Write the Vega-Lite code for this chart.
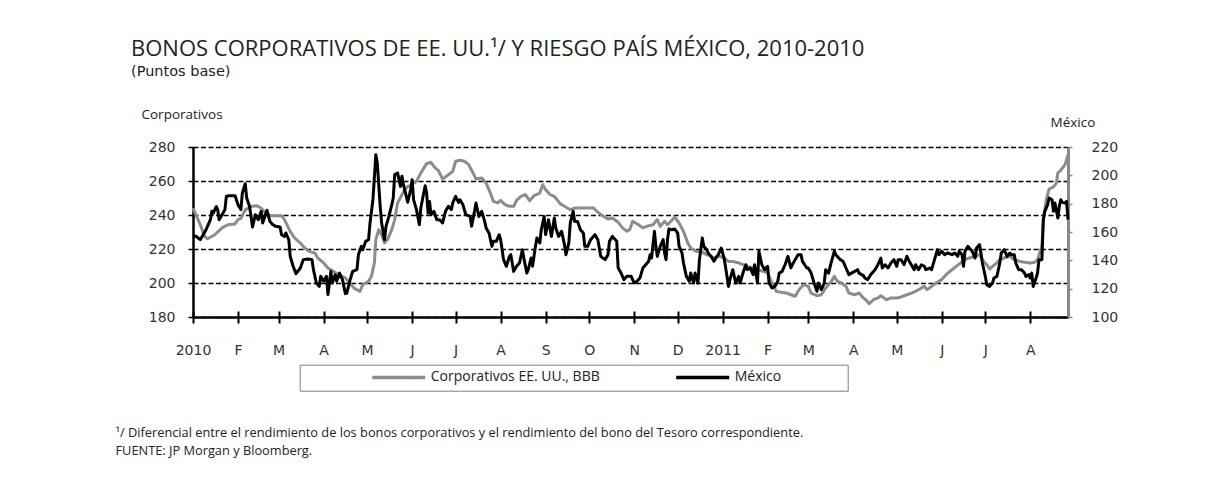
{
 "$schema": "https://vega.github.io/schema/vega-lite/v6.json",
 "width": 875,
 "height": 170,
 "autosize": {"type": "none"},
 "padding": {"left": 193, "top": 147, "right": 141, "bottom": 180},
 "background": "white",
 "config": {"view": {"stroke": null}, "font": "Open Sans"},
 "title": {
  "text": "BONOS CORPORATIVOS DE EE. UU.¹/ Y RIESGO PAÍS MÉXICO, 2010-2010",
  "subtitle": "(Puntos base)",
  "anchor": "start",
  "frame": "group",
  "dx": -62,
  "font": "Open Sans",
  "fontSize": 22,
  "fontWeight": "normal",
  "color": "#222",
  "subtitleFont": "DejaVu Sans",
  "subtitleFontSize": 14.5,
  "subtitleColor": "#222",
  "subtitlePadding": 4.5,
  "offset": 27.5
 },
 "datasets": {
  "corp": [
   {"d":"2010-01-01","v":244.1},{"d":"2010-01-06","v":234.3},{"d":"2010-01-09","v":227.5},{"d":"2010-01-11","v":226},{"d":"2010-01-16","v":228.4},{"d":"2010-01-21","v":232.4},{"d":"2010-01-25","v":234.3},{"d":"2010-01-30","v":234.7},
   {"d":"2010-02-01","v":237.3},{"d":"2010-02-03","v":238},{"d":"2010-02-06","v":243},{"d":"2010-02-10","v":245},{"d":"2010-02-14","v":245.5},{"d":"2010-02-17","v":244},{"d":"2010-02-21","v":240},{"d":"2010-02-24","v":239.6},
   {"d":"2010-03-03","v":239.6},{"d":"2010-03-05","v":237.3},{"d":"2010-03-09","v":230.4},{"d":"2010-03-12","v":226.5},{"d":"2010-03-16","v":223.5},{"d":"2010-03-19","v":220.6},{"d":"2010-03-22","v":218.6},{"d":"2010-03-26","v":217.6},{"d":"2010-03-28","v":214.7},
   {"d":"2010-04-01","v":211.8},{"d":"2010-04-04","v":208.8},{"d":"2010-04-07","v":207.3},{"d":"2010-04-11","v":205},{"d":"2010-04-16","v":203},{"d":"2010-04-19","v":200},{"d":"2010-04-22","v":197},{"d":"2010-04-26","v":195},{"d":"2010-04-28","v":199},
   {"d":"2010-05-02","v":201},{"d":"2010-05-04","v":204},{"d":"2010-05-06","v":211.8},{"d":"2010-05-07","v":225.5},{"d":"2010-05-09","v":231.4},{"d":"2010-05-11","v":228.4},{"d":"2010-05-13","v":223.5},{"d":"2010-05-15","v":225.5},{"d":"2010-05-18","v":231.4},{"d":"2010-05-20","v":237.3},{"d":"2010-05-22","v":247},{"d":"2010-05-25","v":252},{"d":"2010-05-27","v":255},{"d":"2010-05-29","v":256.9},{"d":"2010-05-31","v":257.3},
   {"d":"2010-06-04","v":259.8},{"d":"2010-06-07","v":264.7},{"d":"2010-06-11","v":270.2},{"d":"2010-06-14","v":271},{"d":"2010-06-17","v":267.6},{"d":"2010-06-19","v":266.3},{"d":"2010-06-22","v":261.2},{"d":"2010-06-26","v":263.7},{"d":"2010-06-29","v":265.7},
   {"d":"2010-07-01","v":271.6},{"d":"2010-07-04","v":272.2},{"d":"2010-07-07","v":271.6},{"d":"2010-07-10","v":269.6},{"d":"2010-07-13","v":264.7},{"d":"2010-07-15","v":261.2},{"d":"2010-07-19","v":261.8},{"d":"2010-07-22","v":258.8},{"d":"2010-07-25","v":252.9},{"d":"2010-07-27","v":248},{"d":"2010-07-30","v":247.1},
   {"d":"2010-08-01","v":248.6},{"d":"2010-08-04","v":246.1},{"d":"2010-08-07","v":245.1},{"d":"2010-08-10","v":245.1},{"d":"2010-08-12","v":248.6},{"d":"2010-08-15","v":251},{"d":"2010-08-18","v":252},{"d":"2010-08-21","v":248.4},{"d":"2010-08-24","v":251.4},{"d":"2010-08-28","v":252.9},{"d":"2010-08-30","v":257.8},
   {"d":"2010-09-01","v":254.9},{"d":"2010-09-04","v":252},{"d":"2010-09-07","v":251},{"d":"2010-09-11","v":246.7},{"d":"2010-09-14","v":245.1},{"d":"2010-09-18","v":243.1},{"d":"2010-09-21","v":244.1},{"d":"2010-09-24","v":244.1},{"d":"2010-09-29","v":244.1},
   {"d":"2010-10-04","v":244.1},{"d":"2010-10-07","v":241.6},{"d":"2010-10-11","v":239.2},{"d":"2010-10-14","v":237.6},{"d":"2010-10-17","v":238.2},{"d":"2010-10-21","v":235.7},{"d":"2010-10-24","v":232.4},{"d":"2010-10-27","v":230.4},{"d":"2010-10-29","v":231.4},{"d":"2010-10-31","v":236.3},
   {"d":"2010-11-04","v":234.3},{"d":"2010-11-07","v":232.4},{"d":"2010-11-11","v":233.7},{"d":"2010-11-14","v":234.3},{"d":"2010-11-17","v":237.3},{"d":"2010-11-19","v":233.3},{"d":"2010-11-22","v":236.3},{"d":"2010-11-24","v":234.3},{"d":"2010-11-27","v":236.9},{"d":"2010-11-29","v":238.8},
   {"d":"2010-12-02","v":235.3},{"d":"2010-12-05","v":230.4},{"d":"2010-12-08","v":223.5},{"d":"2010-12-10","v":220.6},{"d":"2010-12-14","v":218.6},{"d":"2010-12-17","v":218.6},{"d":"2010-12-21","v":216.7},{"d":"2010-12-24","v":215.7},{"d":"2010-12-26","v":214.7},{"d":"2010-12-30","v":215.7},
   {"d":"2011-01-02","v":214.7},{"d":"2011-01-05","v":212.7},{"d":"2011-01-08","v":212.7},{"d":"2011-01-12","v":211.8},{"d":"2011-01-15","v":210.8},{"d":"2011-01-18","v":209.8},{"d":"2011-01-22","v":208.8},{"d":"2011-01-25","v":207.8},{"d":"2011-01-29","v":206.9},
   {"d":"2011-02-01","v":205.9},{"d":"2011-02-04","v":200},{"d":"2011-02-07","v":195.1},{"d":"2011-02-10","v":194.5},{"d":"2011-02-14","v":194.1},{"d":"2011-02-17","v":193.1},{"d":"2011-02-20","v":192.2},{"d":"2011-02-23","v":196.5},{"d":"2011-02-26","v":199},
   {"d":"2011-03-01","v":198},{"d":"2011-03-03","v":194.1},{"d":"2011-03-07","v":192.5},{"d":"2011-03-10","v":193.1},{"d":"2011-03-13","v":197.1},{"d":"2011-03-17","v":201},{"d":"2011-03-19","v":203.9},{"d":"2011-03-21","v":201},{"d":"2011-03-24","v":200},{"d":"2011-03-27","v":198},{"d":"2011-03-29","v":194.1},
   {"d":"2011-04-02","v":193.1},{"d":"2011-04-05","v":194.1},{"d":"2011-04-08","v":191.2},{"d":"2011-04-10","v":189.8},{"d":"2011-04-12","v":187.8},{"d":"2011-04-15","v":190.2},{"d":"2011-04-18","v":191.2},{"d":"2011-04-20","v":192.5},{"d":"2011-04-24","v":190.2},{"d":"2011-04-27","v":191.2},
   {"d":"2011-05-01","v":191.2},{"d":"2011-05-04","v":191.8},{"d":"2011-05-08","v":193.1},{"d":"2011-05-11","v":194.1},{"d":"2011-05-14","v":195.1},{"d":"2011-05-18","v":197.1},{"d":"2011-05-20","v":198},{"d":"2011-05-22","v":196.1},{"d":"2011-05-25","v":198},{"d":"2011-05-28","v":200},
   {"d":"2011-06-01","v":202},{"d":"2011-06-04","v":204.9},{"d":"2011-06-08","v":207.8},{"d":"2011-06-11","v":209.8},{"d":"2011-06-14","v":211.8},{"d":"2011-06-17","v":213.7},{"d":"2011-06-20","v":214.7},{"d":"2011-06-24","v":215.7},{"d":"2011-06-27","v":216.7},{"d":"2011-06-29","v":213.7},
   {"d":"2011-07-02","v":210.8},{"d":"2011-07-04","v":208.2},{"d":"2011-07-06","v":209.8},{"d":"2011-07-09","v":211.8},{"d":"2011-07-11","v":213.7},{"d":"2011-07-14","v":214.7},{"d":"2011-07-18","v":215.7},{"d":"2011-07-21","v":213.7},{"d":"2011-07-25","v":212.7},{"d":"2011-07-28","v":212.2},
   {"d":"2011-08-01","v":211.8},{"d":"2011-08-04","v":212.2},{"d":"2011-08-06","v":213.7},{"d":"2011-08-09","v":221.6},{"d":"2011-08-10","v":237.3},{"d":"2011-08-12","v":249},{"d":"2011-08-14","v":255.3},{"d":"2011-08-17","v":256.5},{"d":"2011-08-19","v":258.8},{"d":"2011-08-20","v":264.7},{"d":"2011-08-22","v":266.3},{"d":"2011-08-25","v":269.6},{"d":"2011-08-27","v":275.5}
  ],
  "mex": [
   {"d":"2010-01-01","v":157.4},{"d":"2010-01-03","v":157},{"d":"2010-01-06","v":154.6},{"d":"2010-01-08","v":158},{"d":"2010-01-10","v":161.6},{"d":"2010-01-13","v":168.7},{"d":"2010-01-14","v":174.6},{"d":"2010-01-15","v":173.4},{"d":"2010-01-17","v":178},{"d":"2010-01-18","v":175.8},{"d":"2010-01-19","v":168.7},{"d":"2010-01-21","v":172.2},{"d":"2010-01-23","v":175.8},{"d":"2010-01-24","v":185.2},{"d":"2010-01-26","v":185.6},{"d":"2010-01-30","v":185.6},
   {"d":"2010-02-01","v":179.3},{"d":"2010-02-03","v":175.8},{"d":"2010-02-04","v":187.5},{"d":"2010-02-06","v":194.1},{"d":"2010-02-07","v":184},{"d":"2010-02-09","v":178},{"d":"2010-02-10","v":171},{"d":"2010-02-11","v":163.5},{"d":"2010-02-13","v":172.2},{"d":"2010-02-15","v":168.7},{"d":"2010-02-17","v":174.6},{"d":"2010-02-18","v":166.4},{"d":"2010-02-21","v":175.3},{"d":"2010-02-23","v":167.5},{"d":"2010-02-25","v":165.2},{"d":"2010-02-27","v":164},
   {"d":"2010-03-02","v":163.5},{"d":"2010-03-03","v":158.1},{"d":"2010-03-05","v":156.9},{"d":"2010-03-06","v":159.3},{"d":"2010-03-08","v":154.6},{"d":"2010-03-09","v":142.8},{"d":"2010-03-11","v":135.8},{"d":"2010-03-13","v":130.6},{"d":"2010-03-16","v":134.6},{"d":"2010-03-18","v":140.5},{"d":"2010-03-21","v":140.9},{"d":"2010-03-24","v":140.5},{"d":"2010-03-25","v":133.4},{"d":"2010-03-27","v":124},{"d":"2010-03-29","v":121.6},{"d":"2010-03-30","v":128.7},
   {"d":"2010-04-01","v":125.2},{"d":"2010-04-03","v":128.7},{"d":"2010-04-04","v":115.8},{"d":"2010-04-06","v":132.2},{"d":"2010-04-07","v":124},{"d":"2010-04-09","v":129.9},{"d":"2010-04-10","v":125.2},{"d":"2010-04-12","v":131},{"d":"2010-04-14","v":126.4},{"d":"2010-04-16","v":116.5},{"d":"2010-04-17","v":116.9},{"d":"2010-04-19","v":125.2},{"d":"2010-04-21","v":132.2},{"d":"2010-04-24","v":133.4},{"d":"2010-04-25","v":144},{"d":"2010-04-27","v":149.9},{"d":"2010-04-28","v":147.5},{"d":"2010-04-30","v":153.4},
   {"d":"2010-05-02","v":154.6},{"d":"2010-05-03","v":166.4},{"d":"2010-05-05","v":182.8},{"d":"2010-05-07","v":214.6},{"d":"2010-05-08","v":208.7},{"d":"2010-05-10","v":178.1},{"d":"2010-05-11","v":166.4},{"d":"2010-05-13","v":154.6},{"d":"2010-05-14","v":164},{"d":"2010-05-16","v":171},{"d":"2010-05-18","v":179.3},{"d":"2010-05-19","v":184},{"d":"2010-05-20","v":200.5},{"d":"2010-05-22","v":201.6},{"d":"2010-05-24","v":192.2},{"d":"2010-05-25","v":199.3},{"d":"2010-05-26","v":193.4},{"d":"2010-05-28","v":185.2},{"d":"2010-05-29","v":181},{"d":"2010-05-31","v":190},
   {"d":"2010-06-01","v":196.9},{"d":"2010-06-02","v":182.8},{"d":"2010-06-04","v":175.8},{"d":"2010-06-06","v":165.2},{"d":"2010-06-07","v":176.9},{"d":"2010-06-09","v":187.5},{"d":"2010-06-10","v":192.7},{"d":"2010-06-11","v":187.5},{"d":"2010-06-12","v":173.4},{"d":"2010-06-13","v":181.6},{"d":"2010-06-14","v":172.2},{"d":"2010-06-16","v":174.6},{"d":"2010-06-18","v":168.7},{"d":"2010-06-20","v":168.7},{"d":"2010-06-22","v":166.4},{"d":"2010-06-24","v":174.6},{"d":"2010-06-26","v":178.1},{"d":"2010-06-28","v":175.8},{"d":"2010-06-29","v":180.5},
   {"d":"2010-07-01","v":185.2},{"d":"2010-07-03","v":180.9},{"d":"2010-07-04","v":182.8},{"d":"2010-07-06","v":179.3},{"d":"2010-07-08","v":172.2},{"d":"2010-07-11","v":171},{"d":"2010-07-12","v":164},{"d":"2010-07-14","v":174.6},{"d":"2010-07-15","v":180.5},{"d":"2010-07-17","v":171},{"d":"2010-07-19","v":174.6},{"d":"2010-07-21","v":167.5},{"d":"2010-07-22","v":162.8},{"d":"2010-07-24","v":159.3},{"d":"2010-07-26","v":149.9},{"d":"2010-07-27","v":153.4},{"d":"2010-07-29","v":153.4},{"d":"2010-07-31","v":158.1},
   {"d":"2010-08-01","v":154.6},{"d":"2010-08-03","v":140.5},{"d":"2010-08-05","v":135.8},{"d":"2010-08-07","v":142.8},{"d":"2010-08-08","v":144},{"d":"2010-08-10","v":132.2},{"d":"2010-08-12","v":135.8},{"d":"2010-08-14","v":138.1},{"d":"2010-08-16","v":147.5},{"d":"2010-08-17","v":141.6},{"d":"2010-08-19","v":131},{"d":"2010-08-20","v":133.4},{"d":"2010-08-22","v":141.6},{"d":"2010-08-23","v":135.8},{"d":"2010-08-25","v":149.9},{"d":"2010-08-26","v":155.8},{"d":"2010-08-28","v":152.2},{"d":"2010-08-29","v":161.6},{"d":"2010-08-31","v":171},
   {"d":"2010-09-01","v":158.1},{"d":"2010-09-03","v":168.7},{"d":"2010-09-05","v":156.9},{"d":"2010-09-07","v":169.9},{"d":"2010-09-08","v":162.8},{"d":"2010-09-10","v":156.9},{"d":"2010-09-12","v":160.5},{"d":"2010-09-14","v":151.1},{"d":"2010-09-15","v":144},{"d":"2010-09-17","v":152.2},{"d":"2010-09-18","v":166.4},{"d":"2010-09-20","v":174.6},{"d":"2010-09-21","v":167.5},{"d":"2010-09-23","v":167.5},{"d":"2010-09-25","v":161.6},{"d":"2010-09-27","v":159.3},{"d":"2010-09-28","v":149.9},{"d":"2010-09-30","v":149.9},
   {"d":"2010-10-02","v":154.6},{"d":"2010-10-05","v":158.1},{"d":"2010-10-07","v":154.6},{"d":"2010-10-09","v":142.8},{"d":"2010-10-12","v":140.5},{"d":"2010-10-14","v":144},{"d":"2010-10-15","v":153.4},{"d":"2010-10-17","v":156.9},{"d":"2010-10-20","v":153.4},{"d":"2010-10-21","v":134.6},{"d":"2010-10-23","v":131},{"d":"2010-10-25","v":126.4},{"d":"2010-10-27","v":128.7},{"d":"2010-10-30","v":128.7},
   {"d":"2010-11-01","v":124},{"d":"2010-11-03","v":125.2},{"d":"2010-11-05","v":127.5},{"d":"2010-11-07","v":134.6},{"d":"2010-11-09","v":136.9},{"d":"2010-11-11","v":139.3},{"d":"2010-11-12","v":144},{"d":"2010-11-13","v":141.6},{"d":"2010-11-15","v":160.5},{"d":"2010-11-16","v":149.9},{"d":"2010-11-17","v":142.8},{"d":"2010-11-19","v":149.9},{"d":"2010-11-21","v":154.6},{"d":"2010-11-22","v":145.2},{"d":"2010-11-23","v":140.5},{"d":"2010-11-24","v":154.6},{"d":"2010-11-25","v":162.1},{"d":"2010-11-27","v":161.6},{"d":"2010-11-29","v":162.1},
   {"d":"2010-12-01","v":159.3},{"d":"2010-12-02","v":149.9},{"d":"2010-12-04","v":145.2},{"d":"2010-12-05","v":138.1},{"d":"2010-12-07","v":128.7},{"d":"2010-12-09","v":125.2},{"d":"2010-12-10","v":131},{"d":"2010-12-12","v":124},{"d":"2010-12-13","v":131},{"d":"2010-12-15","v":124},{"d":"2010-12-16","v":140.5},{"d":"2010-12-18","v":155.8},{"d":"2010-12-19","v":149.9},{"d":"2010-12-21","v":147.5},{"d":"2010-12-22","v":145.2},{"d":"2010-12-24","v":142.8},{"d":"2010-12-26","v":139.3},{"d":"2010-12-28","v":142.8},{"d":"2010-12-29","v":144},{"d":"2010-12-31","v":148.7},
   {"d":"2011-01-02","v":141.6},{"d":"2011-01-04","v":128.7},{"d":"2011-01-05","v":121.6},{"d":"2011-01-06","v":126.4},{"d":"2011-01-08","v":133.4},{"d":"2011-01-10","v":124},{"d":"2011-01-12","v":128.7},{"d":"2011-01-13","v":124},{"d":"2011-01-15","v":131},{"d":"2011-01-17","v":136.9},{"d":"2011-01-18","v":133.4},{"d":"2011-01-20","v":134.6},{"d":"2011-01-22","v":129.9},{"d":"2011-01-23","v":136.9},{"d":"2011-01-25","v":124},{"d":"2011-01-26","v":146.4},{"d":"2011-01-28","v":136.9},{"d":"2011-01-30","v":133.4},
   {"d":"2011-02-01","v":135.8},{"d":"2011-02-02","v":124},{"d":"2011-02-04","v":120.5},{"d":"2011-02-06","v":121.6},{"d":"2011-02-08","v":125.2},{"d":"2011-02-09","v":131},{"d":"2011-02-11","v":132.2},{"d":"2011-02-13","v":136.9},{"d":"2011-02-15","v":142.8},{"d":"2011-02-17","v":134.6},{"d":"2011-02-18","v":136.9},{"d":"2011-02-20","v":140.5},{"d":"2011-02-22","v":144},{"d":"2011-02-24","v":144},{"d":"2011-02-25","v":139.3},{"d":"2011-02-28","v":134.6},
   {"d":"2011-03-01","v":134.6},{"d":"2011-03-03","v":131},{"d":"2011-03-05","v":124},{"d":"2011-03-07","v":118.1},{"d":"2011-03-08","v":124},{"d":"2011-03-10","v":119.3},{"d":"2011-03-12","v":124},{"d":"2011-03-13","v":133.4},{"d":"2011-03-15","v":131},{"d":"2011-03-17","v":139.3},{"d":"2011-03-19","v":146.4},{"d":"2011-03-20","v":144},{"d":"2011-03-23","v":140.5},{"d":"2011-03-25","v":139.3},{"d":"2011-03-27","v":134.6},{"d":"2011-03-29","v":129.9},
   {"d":"2011-04-02","v":132.2},{"d":"2011-04-04","v":133.4},{"d":"2011-04-05","v":131},{"d":"2011-04-08","v":129.2},{"d":"2011-04-09","v":127.5},{"d":"2011-04-11","v":126.4},{"d":"2011-04-13","v":129.9},{"d":"2011-04-16","v":133.4},{"d":"2011-04-18","v":136.9},{"d":"2011-04-20","v":141.6},{"d":"2011-04-21","v":134.6},{"d":"2011-04-23","v":136.9},{"d":"2011-04-25","v":134.6},{"d":"2011-04-27","v":138.1},{"d":"2011-04-29","v":140.5},
   {"d":"2011-05-01","v":135.8},{"d":"2011-05-02","v":140.5},{"d":"2011-05-04","v":140.5},{"d":"2011-05-06","v":136.9},{"d":"2011-05-08","v":142.8},{"d":"2011-05-09","v":140.5},{"d":"2011-05-11","v":136.9},{"d":"2011-05-13","v":133.4},{"d":"2011-05-14","v":136.9},{"d":"2011-05-16","v":133.4},{"d":"2011-05-18","v":136.9},{"d":"2011-05-20","v":135.8},{"d":"2011-05-21","v":133.4},{"d":"2011-05-24","v":134.6},{"d":"2011-05-25","v":133.4},{"d":"2011-05-27","v":140.5},{"d":"2011-05-29","v":147.5},{"d":"2011-05-30","v":144},
   {"d":"2011-06-01","v":146.4},{"d":"2011-06-03","v":144},{"d":"2011-06-05","v":145.2},{"d":"2011-06-08","v":144},{"d":"2011-06-10","v":145.2},{"d":"2011-06-12","v":142.8},{"d":"2011-06-13","v":146.4},{"d":"2011-06-15","v":144},{"d":"2011-06-16","v":135.8},{"d":"2011-06-17","v":146.4},{"d":"2011-06-19","v":149.9},{"d":"2011-06-20","v":148.7},{"d":"2011-06-22","v":146.4},{"d":"2011-06-24","v":141.6},{"d":"2011-06-25","v":148.7},{"d":"2011-06-27","v":151.1},{"d":"2011-06-28","v":145.2},{"d":"2011-06-29","v":138.1},
   {"d":"2011-07-01","v":128.7},{"d":"2011-07-02","v":122.8},{"d":"2011-07-04","v":121.6},{"d":"2011-07-06","v":124},{"d":"2011-07-07","v":127.5},{"d":"2011-07-09","v":128.7},{"d":"2011-07-11","v":138.1},{"d":"2011-07-12","v":145.2},{"d":"2011-07-14","v":147.5},{"d":"2011-07-16","v":142.8},{"d":"2011-07-18","v":145.2},{"d":"2011-07-19","v":144},{"d":"2011-07-21","v":144},{"d":"2011-07-22","v":138.1},{"d":"2011-07-24","v":133.4},{"d":"2011-07-26","v":133.4},{"d":"2011-07-28","v":131},{"d":"2011-07-29","v":128.7},{"d":"2011-07-31","v":129.9},
   {"d":"2011-08-01","v":127.5},{"d":"2011-08-02","v":131},{"d":"2011-08-03","v":121.6},{"d":"2011-08-05","v":127.5},{"d":"2011-08-06","v":131},{"d":"2011-08-07","v":140.5},{"d":"2011-08-09","v":140.5},{"d":"2011-08-10","v":168.7},{"d":"2011-08-11","v":174.6},{"d":"2011-08-13","v":179.3},{"d":"2011-08-14","v":184},{"d":"2011-08-16","v":182.8},{"d":"2011-08-17","v":174.6},{"d":"2011-08-18","v":180.5},{"d":"2011-08-20","v":169.9},{"d":"2011-08-21","v":178.1},{"d":"2011-08-22","v":182.8},{"d":"2011-08-23","v":180.9},{"d":"2011-08-25","v":180.5},{"d":"2011-08-26","v":181.6},{"d":"2011-08-27","v":168.7}
  ]
 },
 "layer": [
  {
   "data": {"name": "corp"},
   "mark": {"type": "line", "strokeWidth": 3, "strokeJoin": "round"},
   "encoding": {
    "x": {
     "field": "d", "type": "temporal",
     "scale": {"type": "utc", "domain": [{"year": 2010, "month": 1, "date": 1, "utc": true}, {"year": 2011, "month": 8, "date": 27, "utc": true}]},
     "axis": {
      "orient": "bottom",
      "values": [
       {"year":2010,"month":1,"date":1,"utc":true},{"year":2010,"month":2,"date":1,"utc":true},{"year":2010,"month":3,"date":1,"utc":true},{"year":2010,"month":4,"date":1,"utc":true},{"year":2010,"month":5,"date":1,"utc":true},{"year":2010,"month":6,"date":1,"utc":true},{"year":2010,"month":7,"date":1,"utc":true},{"year":2010,"month":8,"date":1,"utc":true},{"year":2010,"month":9,"date":1,"utc":true},{"year":2010,"month":10,"date":1,"utc":true},{"year":2010,"month":11,"date":1,"utc":true},{"year":2010,"month":12,"date":1,"utc":true},
       {"year":2011,"month":1,"date":1,"utc":true},{"year":2011,"month":2,"date":1,"utc":true},{"year":2011,"month":3,"date":1,"utc":true},{"year":2011,"month":4,"date":1,"utc":true},{"year":2011,"month":5,"date":1,"utc":true},{"year":2011,"month":6,"date":1,"utc":true},{"year":2011,"month":7,"date":1,"utc":true},{"year":2011,"month":8,"date":1,"utc":true}
      ],
      "labelExpr": "utcmonth(datum.value) == 0 ? utcFormat(datum.value, '%Y') : ['','F','M','A','M','J','J','A','S','O','N','D'][utcmonth(datum.value)]",
      "labelFlush": false, "labelOverlap": false, "labelBound": false,
      "labelFont": "DejaVu Sans", "labelFontSize": 14, "labelColor": "#333", "labelPadding": 20,
      "tickSize": 6, "tickColor": "#000", "tickWidth": 2,
      "domainColor": "#000", "domainWidth": 2.5,
      "grid": false,
      "title": ["¹/ Diferencial entre el rendimiento de los bonos  corporativos y el rendimiento  del bono del Tesoro correspondiente.", "FUENTE: JP Morgan y Bloomberg."],
      "titleX": -78, "titleY": 109, "titleAlign": "left", "titleAnchor": "start", "titleBaseline": "top",
      "titleFont": "Open Sans", "titleFontSize": 12.8, "titleFontWeight": "normal", "titleColor": "#222", "titleLineHeight": 18.5
     }
    },
    "y": {
     "field": "v", "type": "quantitative",
     "scale": {"domain": [180, 280], "nice": false, "zero": false},
     "axis": {
      "orient": "left", "values": [180, 200, 220, 240, 260, 280],
      "grid": true, "gridColor": "#000", "gridDash": [5, 2.5], "gridWidth": 1.5,
      "domainColor": "#000", "domainWidth": 2.5,
      "tickColor": "#000", "tickWidth": 1.5, "tickSize": 5,
      "labelFont": "DejaVu Sans", "labelFontSize": 14, "labelColor": "#333", "labelPadding": 13,
      "title": "Corporativos", "titleAngle": 0, "titleX": -52, "titleY": -29, "titleAlign": "left", "titleBaseline": "alphabetic",
      "titleFont": "Open Sans", "titleFontSize": 13.5, "titleFontWeight": "normal", "titleColor": "#222"
     }
    },
    "color": {
     "datum": "Corporativos EE. UU., BBB", "type": "nominal",
     "scale": {"domain": ["Corporativos EE. UU., BBB", "México"], "range": ["#8c8c8c", "#000000"]},
     "legend": {
      "orient": "none", "legendX": 106.7, "legendY": 217.7, "direction": "horizontal", "title": null,
      "symbolType": "stroke", "symbolSize": 2809, "symbolStrokeWidth": 3.5, "symbolOffset": 64.5,
      "labelOffset": 3.5, "labelFont": "Open Sans", "labelFontSize": 14, "labelColor": "#222", "labelLimit": 400,
      "clipHeight": 13, "padding": 6, "strokeColor": "#7f7f7f", "columnPadding": 9,
      "labelExpr": "datum.label == 'Corporativos EE. UU., BBB' ? datum.label : datum.label + '\u2800\u2800\u2800\u2800\u2800\u2800'"
     }
    }
   }
  },
  {
   "data": {"name": "mex"},
   "mark": {"type": "line", "strokeWidth": 3, "strokeJoin": "round"},
   "encoding": {
    "x": {
     "field": "d", "type": "temporal",
     "scale": {"type": "utc", "domain": [{"year": 2010, "month": 1, "date": 1, "utc": true}, {"year": 2011, "month": 8, "date": 27, "utc": true}]},
     "axis": {
      "orient": "bottom",
      "values": [
       {"year":2010,"month":1,"date":1,"utc":true},{"year":2010,"month":2,"date":1,"utc":true},{"year":2010,"month":3,"date":1,"utc":true},{"year":2010,"month":4,"date":1,"utc":true},{"year":2010,"month":5,"date":1,"utc":true},{"year":2010,"month":6,"date":1,"utc":true},{"year":2010,"month":7,"date":1,"utc":true},{"year":2010,"month":8,"date":1,"utc":true},{"year":2010,"month":9,"date":1,"utc":true},{"year":2010,"month":10,"date":1,"utc":true},{"year":2010,"month":11,"date":1,"utc":true},{"year":2010,"month":12,"date":1,"utc":true},
       {"year":2011,"month":1,"date":1,"utc":true},{"year":2011,"month":2,"date":1,"utc":true},{"year":2011,"month":3,"date":1,"utc":true},{"year":2011,"month":4,"date":1,"utc":true},{"year":2011,"month":5,"date":1,"utc":true},{"year":2011,"month":6,"date":1,"utc":true},{"year":2011,"month":7,"date":1,"utc":true},{"year":2011,"month":8,"date":1,"utc":true}
      ],
      "labels": false, "domain": false, "grid": false,
      "tickSize": -6, "tickColor": "#000", "tickWidth": 2,
      "title": null
     }
    },
    "y": {
     "field": "v", "type": "quantitative",
     "scale": {"domain": [100, 220], "nice": false, "zero": false},
     "axis": {
      "orient": "right", "values": [100, 120, 140, 160, 180, 200, 220],
      "grid": false,
      "domainColor": "#888", "domainWidth": 3,
      "tickColor": "#888", "tickWidth": 1.5, "tickSize": 4,
      "labelFont": "DejaVu Sans", "labelFontSize": 14, "labelColor": "#333", "labelPadding": 19,
      "title": "México", "titleAngle": 0, "titleX": -18, "titleY": -21, "titleAlign": "left", "titleBaseline": "alphabetic",
      "titleFont": "Open Sans", "titleFontSize": 13.5, "titleFontWeight": "normal", "titleColor": "#222"
     }
    },
    "color": {"datum": "México", "type": "nominal"}
   }
  }
 ],
 "resolve": {"scale": {"y": "independent"}, "axis": {"x": "independent", "y": "independent"}}
}
